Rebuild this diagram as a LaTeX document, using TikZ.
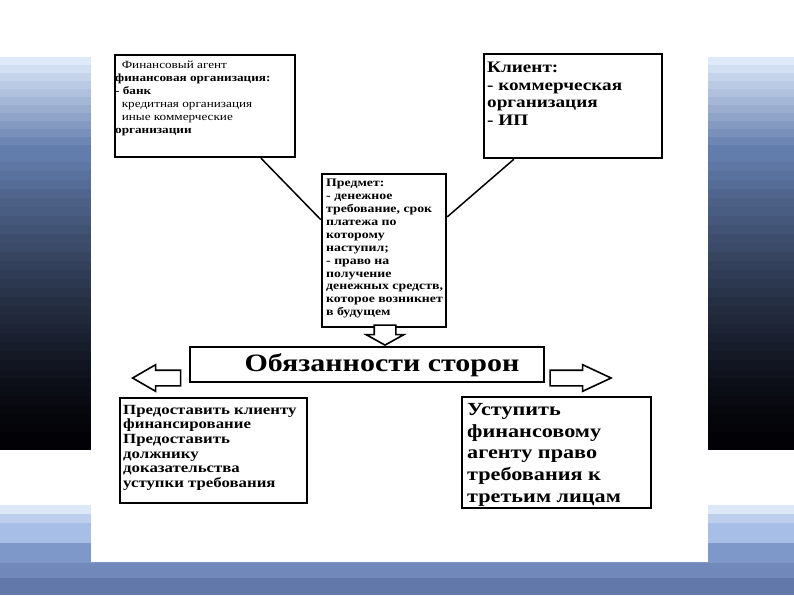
\documentclass[tikz,border=0pt]{standalone}
\usepackage{fontspec}
\setmainfont{Liberation Serif}[FakeStretch=1.2]
\usetikzlibrary{shapes.arrows}

\definecolor{bandtop}{RGB}{222,233,250}
\definecolor{bandmid}{RGB}{98,124,172}
\definecolor{bandlow}{RGB}{2,2,6}
\definecolor{bandA}{RGB}{220,232,248}
\definecolor{bandB}{RGB}{190,207,238}
\definecolor{bandC}{RGB}{167,190,230}
\definecolor{bandD}{RGB}{126,153,201}
\definecolor{bandE}{RGB}{112,136,186}
\definecolor{bandF}{RGB}{98,120,170}

\begin{document}
\begin{tikzpicture}[x=1pt, y=-1pt,
  box/.style={draw, line width=2.4pt, fill=white, inner sep=0pt},
  txt/.style={anchor=north west, align=left, inner sep=0pt},
  blk/.style={single arrow, draw, line width=1.6pt, fill=white, anchor=tip, inner xsep=0pt, inner ysep=7pt, single arrow head extend=5.5pt},
  link/.style={line width=1.5pt}]
\useasboundingbox (0,0) rectangle (794,595);
\fill[white] (0,0) rectangle (794,595);
% side bands
\foreach \i in {0,...,11} {
  \pgfmathtruncatemacro\p{100-100*\i/11}
  \fill[bandtop!\p!bandmid] (0,57+8*\i) rectangle (794,65.5+8*\i);
}
\foreach \i in {0,...,32} {
  \pgfmathtruncatemacro\p{100*(1-\i/32)^1.4}
  \fill[bandmid!\p!bandlow] (0,153+9*\i) rectangle (794,162.5+9*\i);
}
\foreach \a/\b/\c in {505/514/bandA,514/523/bandB,523/543/bandC,543/563/bandD,563/578/bandE,578/595/bandF}
  \fill[\c] (0,\a) rectangle (794,\b);
\fill[white] (0,450) rectangle (794,505);
% white panel
\fill[white] (91,40) rectangle (708,562);

% boxes
\node[box, minimum width=180pt, minimum height=102pt] (agent) at (205,106) {};
\node[box, minimum width=178pt, minimum height=104pt] (client) at (573,106) {};
\node[box, minimum width=124pt, minimum height=153pt] (subject) at (384,250.5) {};
\node[box, minimum width=354pt, minimum height=35pt] (duties) at (367,364.5) {};
\node[box, minimum width=187pt, minimum height=105pt] (factor) at (213.5,450.5) {};
\node[box, minimum width=189pt, minimum height=111pt] (creditor) at (556.5,452.5) {};

\draw[link] (agent.-43) -- (subject.154);
\draw[link] (subject.28) -- (client.-138);

% block arrows
\node[blk, inner xsep=10pt, inner ysep=0pt, single arrow head extend=8pt, single arrow tip angle=122, minimum height=20pt, shape border rotate=270] (down) at (385,346) {};
\node[blk, minimum height=48pt, single arrow tip angle=60, shape border rotate=180] (left) at (131,378) {};
\node[blk, minimum height=61pt, single arrow tip angle=50] (right) at (613,378) {};

% texts
\node[txt, font=\bfseries\fontsize{11}{13}\selectfont] (agenttxt) at (115,61)
  {{\mdseries\ \ Финансовый агент}\\финансовая организация:\\- банк\\{\mdseries\ \ кредитная организация}\\{\mdseries\ \ иные коммерческие}\\организации};
\node[txt, font=\bfseries\fontsize{16}{17.5}\selectfont] (clienttxt) at (487,62)
  {Клиент:\\- коммерческая\\организация\\- ИП};
\node[txt, font=\bfseries\fontsize{11.5}{12.9}\selectfont] (subjecttxt) at (326,179)
  {Предмет:\\- денежное\\требование, срок\\платежа по\\которому\\наступил;\\- право на\\получение\\денежных средств,\\которое возникнет\\в будущем};
\node[font=\bfseries\fontsize{25}{28}\selectfont] (dutiestxt) at (382,365.5) {Обязанности сторон};
\node[txt, font=\bfseries\fontsize{14}{14.6}\selectfont] (factortxt) at (123,405)
  {Предоставить клиенту\\финансирование\\Предоставить\\должнику\\доказательства\\уступки требования};
\node[txt, font=\bfseries\fontsize{18.5}{21.8}\selectfont] (creditortxt) at (467,403)
  {Уступить\\финансовому\\агенту право\\требования к\\третьим лицам};
\end{tikzpicture}
\end{document}
